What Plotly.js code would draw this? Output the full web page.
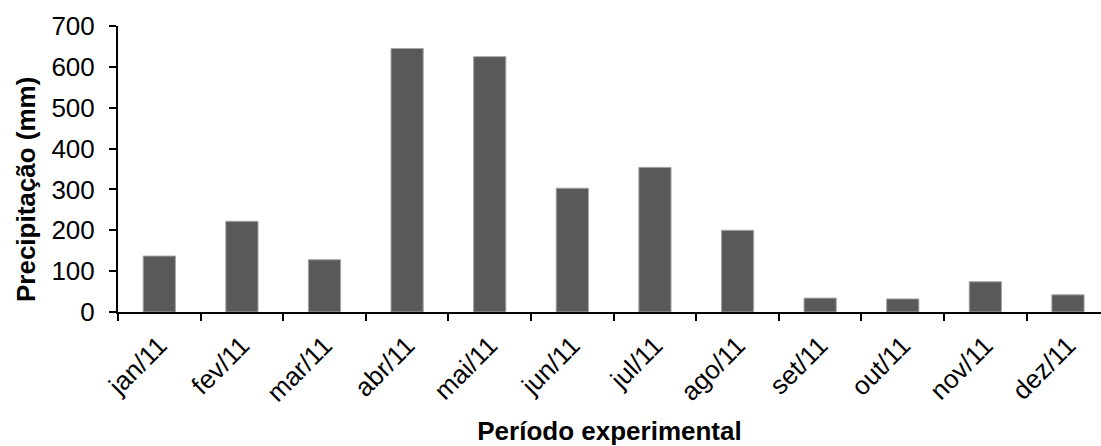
<!DOCTYPE html>
<html>
<head>
<meta charset="utf-8">
<script src="https://cdn.plot.ly/plotly-3.0.1.min.js"></script>
<style>html,body{margin:0;padding:0;background:#fff;}#chart{width:1101px;height:446px;}</style>
</head>
<body>
<div id="chart"></div>
<script>
const months = ["jan/11","fev/11","mar/11","abr/11","mai/11","jun/11","jul/11","ago/11","set/11","out/11","nov/11","dez/11"];
const precipitation = [137, 222, 128, 645, 625, 303, 354, 200, 34, 32, 74, 42];
const yTicks = [0, 100, 200, 300, 400, 500, 600, 700];

const font = "Liberation Sans, Arial, sans-serif";

const trace = {
  type: "bar",
  x: months,
  y: precipitation,
  marker: {color: "#595959", line: {color: "#a6a6a6", width: 1}},
  hoverinfo: "x+y"
};

const layout = {
  width: 1101,
  height: 446,
  margin: {l: 118, r: 0, t: 26, b: 134, pad: 0},
  paper_bgcolor: "#fff",
  plot_bgcolor: "#fff",
  showlegend: false,
  bargap: 0.61,
  font: {family: font, color: "#000", size: 26},
  xaxis: {
    type: "category",
    range: [-0.5, 11.4],
    tickson: "boundaries",
    ticks: "outside",
    ticklen: 7,
    tickwidth: 2,
    tickcolor: "#000",
    showline: true,
    linecolor: "#000",
    linewidth: 2,
    showgrid: false,
    zeroline: false,
    tickangle: -45,
    ticklabelstandoff: 6,
    tickfont: {family: font, size: 26, color: "#000"},
    title: {text: "<b>Período experimental</b>", font: {family: font, size: 26, color: "#000"}, standoff: 16}
  },
  yaxis: {
    range: [0, 700],
    tickvals: yTicks,
    ticktext: yTicks.map(String),
    ticks: "outside",
    ticklen: 7,
    tickwidth: 2,
    tickcolor: "#000",
    showline: true,
    linecolor: "#000",
    linewidth: 2,
    showgrid: false,
    zeroline: false,
    tickfont: {family: font, size: 26, color: "#000"},
    ticklabelstandoff: 9
  },
  annotations: [{
    text: "<b>Precipitação (mm)</b>",
    xref: "paper", yref: "paper",
    x: -0.0936, y: 0.43,
    xanchor: "center", yanchor: "middle",
    textangle: -90,
    showarrow: false,
    font: {family: font, size: 26, color: "#000"}
  }]
};

Plotly.newPlot("chart", [trace], layout, {displayModeBar: false, staticPlot: true});
</script>
</body>
</html>
